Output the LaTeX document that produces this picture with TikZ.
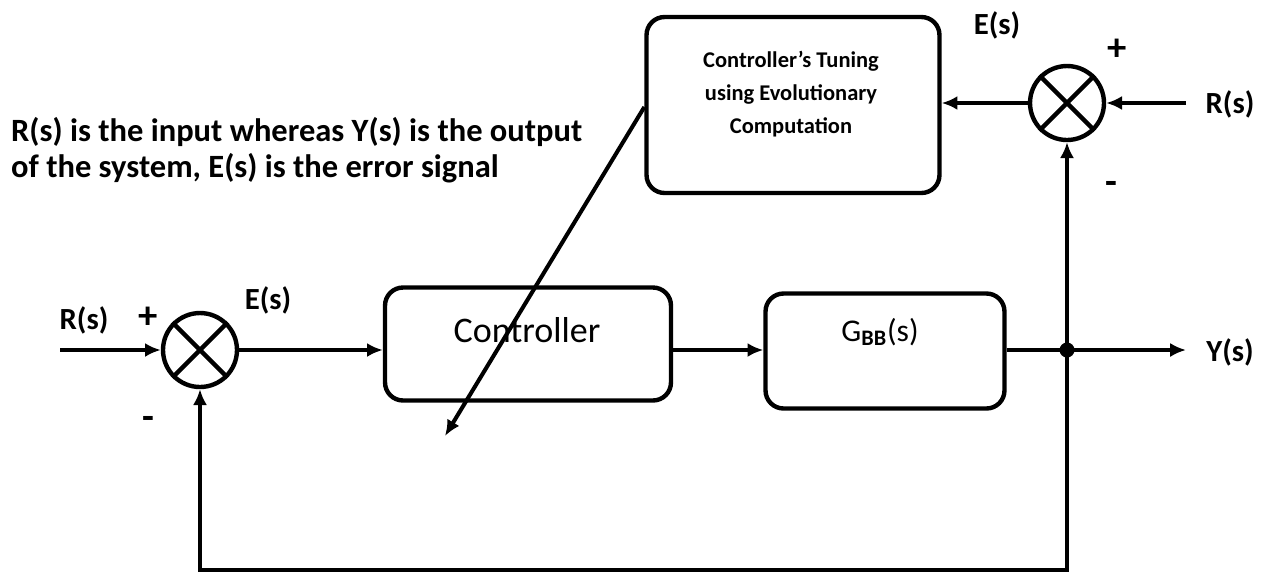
\documentclass[tikz,border=0pt]{standalone}
\usepackage{fontspec}
\setmainfont{Carlito}
\usetikzlibrary{arrows.meta,calc}
\begin{document}
\begin{tikzpicture}[x=0.02cm,y=-0.02cm,
  line width=2.5pt,
  >={Latex[length=9pt,width=8pt]},
  blk/.style={draw,rounded corners=0.36cm,inner sep=0pt},
  sumj/.style={draw,circle,minimum size=1.48cm,inner sep=0pt},
  lbl/.style={font=\fontsize{17.5}{20}\selectfont\bfseries,inner sep=0pt},
  sgn/.style={font=\fontsize{22}{24}\selectfont\bfseries,inner sep=0pt}]
\useasboundingbox (0,0) rectangle (1274,576);

% blocks
\node[blk,minimum width=5.72cm,minimum height=2.26cm] (ctrl) at (528,344) {};
\node[inner sep=0pt,font=\fontsize{20.5}{22}\selectfont] (ctrltxt) at (527,330) {Controller};
\node[blk,minimum width=4.78cm,minimum height=2.30cm] (plant) at (885,351) {};
\node[inner sep=0pt,font=\fontsize{18}{20}\selectfont] (planttxt) at (880,332)
  {G\textsubscript{\bfseries BB}(s)};
\node[blk,minimum width=5.86cm,minimum height=3.52cm] (tune) at (793,105) {};
\node[align=center,inner sep=0pt,font=\fontsize{12.8}{18.8}\selectfont\bfseries] (tunetxt) at (791,94)
  {Controller's Tuning\\using Evolutionary\\Computation};

% summing junctions
\node[sumj] (s1) at (200,350) {};
\draw (s1.north west) -- (s1.south east) (s1.north east) -- (s1.south west);
\node[sumj] (s2) at (1067,103) {};
\draw (s2.north west) -- (s2.south east) (s2.north east) -- (s2.south west);

% branch point and free ends
\coordinate (dot) at (1067,350);
\fill (dot) circle (0.15cm);
\coordinate (rin) at (60,350);
\coordinate (yout) at (1186,350);
\coordinate (rin2) at (1186,103);
\coordinate (fb) at (1067,570);
\coordinate (adj) at (445,436);

% signal flow
\draw[->] (rin) -- (s1.west);
\draw[->] (s1.east) -- (ctrl.west |- s1.east);
\draw[->] (ctrl.east |- dot) -- (plant.west |- dot);
\draw (plant.east |- dot) -- (dot);
\draw[->] (dot) -- (yout);
\draw[->] (dot) -- (fb) -| (s1.south);
\draw[->] (dot) -- (s2.south);
\draw[->] (rin2) -- (s2.east);
\draw[->] (s2.west) -- (tune.east |- s2.west);
\draw[->,line width=2.3pt] ($(tune.west)+(0,2)$) -- (adj);

% labels
\node[lbl] (lr1) at (84,320) {R(s)};
\node[sgn] (lp1) at (148,318) {+};
\node[lbl] (le1) at (268,300) {E(s)};
\node[sgn] (lm1) at (148,423) {-};
\node[lbl] (ly) at (1230,352) {Y(s)};
\node[lbl] (le2) at (997,25) {E(s)};
\node[sgn] (lp2) at (1117,50) {+};
\node[sgn] (lm2) at (1111,188) {-};
\node[lbl] (lr2) at (1230,104) {R(s)};

% note
\node[anchor=west,align=left,inner sep=0pt,
  font=\fontsize{18.5}{20.2}\selectfont\bfseries] (note) at (9,150)
  {R(s) is the input whereas Y(s) is the output\\of the system, E(s) is the error signal};
\end{tikzpicture}
\end{document}
